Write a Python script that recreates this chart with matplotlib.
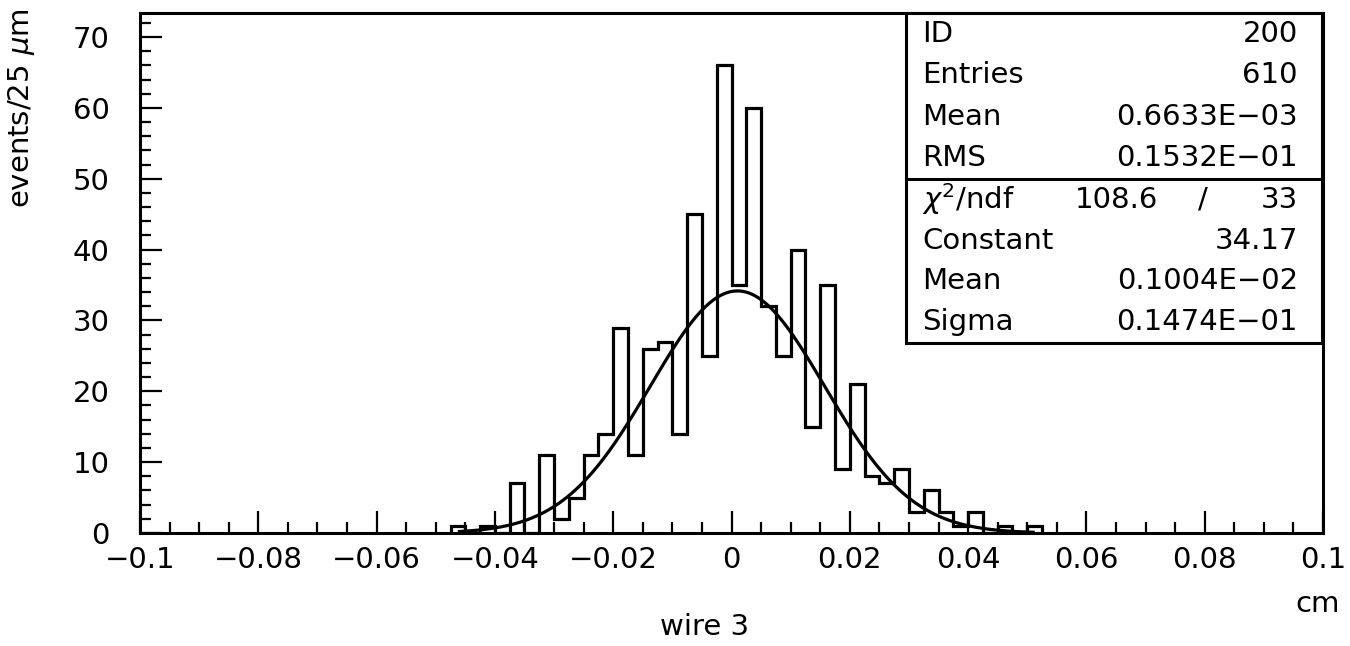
import numpy as np
import matplotlib
matplotlib.use("Agg")
import matplotlib.pyplot as plt
from matplotlib.ticker import FixedLocator, FixedFormatter, MultipleLocator
from matplotlib.patches import Rectangle
from matplotlib.lines import Line2D

plt.rcParams['font.family'] = ['DejaVu Sans']

# ---- data ----
bin_width = 0.0025           # 25 um bins (cm)
first_edge = -0.0475         # left edge of first non-empty region shown
counts = [1, 0, 1, 0, 7, 0, 11, 2, 5, 11,
          14, 29, 11, 26, 27, 14, 45, 25, 66, 35,
          60, 32, 25, 40, 15, 35, 9, 21, 8, 7,
          9, 3, 6, 3, 1, 3, 0, 1, 0, 1]

fit_constant = 34.17
fit_mean = 0.1004e-02
fit_sigma = 0.1474e-01
fit_range = (-0.046, 0.051)

x_ticks = [-0.1, -0.08, -0.06, -0.04, -0.02, 0.0, 0.02, 0.04, 0.06, 0.08, 0.1]
x_tick_labels = ['\u22120.1', '\u22120.08', '\u22120.06', '\u22120.04', '\u22120.02', '0',
                 '0.02', '0.04', '0.06', '0.08', '0.1']
y_ticks = [0, 10, 20, 30, 40, 50, 60, 70]

stat_names = ['ID', 'Entries', 'Mean', 'RMS']
stat_values = ['200', '610', '0.6633E\u221203', '0.1532E\u221201']
fit_names = ['Constant', 'Mean', 'Sigma']
fit_values = ['34.17', '0.1004E\u221202', '0.1474E\u221201']
chi2_value = '108.6'
ndf_value = '33'

# ---- figure ----
W, H = 1350, 646
fig = plt.figure(figsize=(W / 100, H / 100), dpi=100)

def fx(px):
    return px / W

def fy(py):
    return 1 - py / H

ax_left, ax_right, ax_top, ax_bottom = 140, 1323, 13, 533
ax = fig.add_axes([fx(ax_left), fy(ax_bottom), fx(ax_right - ax_left), (ax_bottom - ax_top) / H])

edges = first_edge + bin_width * np.arange(len(counts) + 1)
ax.stairs(counts, edges, baseline=0, fill=False, color='black', linewidth=2.3)

xf = np.linspace(fit_range[0], fit_range[1], 400)
yf = fit_constant * np.exp(-0.5 * ((xf - fit_mean) / fit_sigma) ** 2)
ax.plot(xf, yf, color='black', linewidth=2.3)

ax.set_xlim(-0.1, 0.1)
ax.set_ylim(0, 73.4)

ax.xaxis.set_major_locator(FixedLocator(x_ticks))
ax.xaxis.set_major_formatter(FixedFormatter(x_tick_labels))
ax.xaxis.set_minor_locator(MultipleLocator(0.005))
ax.yaxis.set_major_locator(FixedLocator(y_ticks))
ax.yaxis.set_minor_locator(MultipleLocator(2))

fs = 21
ax.tick_params(axis='both', which='both', direction='in', top=False, right=False,
               width=1.6, colors='black', labelsize=fs)
ax.tick_params(axis='both', which='major', length=16)
ax.tick_params(axis='both', which='minor', length=8)
ax.tick_params(axis='x', which='major', pad=9)
ax.tick_params(axis='y', which='major', pad=22)
for s in ax.spines.values():
    s.set_linewidth(2.2)

# axis titles
fig.text(fx(22), fy(108), 'events/25 $\\mu$m', rotation=90, ha='center', va='center', fontsize=fs)
fig.text(fx(1318), fy(604), 'cm', ha='center', va='center', fontsize=fs)
fig.text(fx(705), fy(627), 'wire 3', ha='center', va='center', fontsize=fs)

# stats box
bx0, bx1, by0, by1, bdiv = 906, 1322, 13, 343, 179
fig.patches.append(Rectangle((fx(bx0), fy(by1)), fx(bx1 - bx0), (by1 - by0) / H,
                             transform=fig.transFigure, facecolor='white',
                             edgecolor='black', linewidth=2.2, zorder=5))
fig.lines.append(Line2D([fx(bx0), fx(bx1)], [fy(bdiv), fy(bdiv)], transform=fig.transFigure,
                        color='black', linewidth=2.2, zorder=6))

tx_left, tx_right = 922, 1298
row_h1 = (bdiv - by0) / 4
for i, (n, v) in enumerate(zip(stat_names, stat_values)):
    yc = by0 + row_h1 * (i + 0.5)
    fig.text(fx(tx_left), fy(yc), n, ha='left', va='center', fontsize=fs, zorder=7)
    fig.text(fx(tx_right), fy(yc), v, ha='right', va='center', fontsize=fs, zorder=7)

row_h2 = (by1 - bdiv) / 4
yc = bdiv + row_h2 * 0.5
fig.text(fx(tx_left), fy(yc), '$\\chi^2$/ndf', ha='left', va='center', fontsize=fs, zorder=7)
fig.text(fx(1158), fy(yc), chi2_value, ha='right', va='center', fontsize=fs, zorder=7)
fig.text(fx(1203), fy(yc), '/', ha='center', va='center', fontsize=fs, zorder=7)
fig.text(fx(tx_right), fy(yc), ndf_value, ha='right', va='center', fontsize=fs, zorder=7)
for i, (n, v) in enumerate(zip(fit_names, fit_values)):
    yc = bdiv + row_h2 * (i + 1.5)
    fig.text(fx(tx_left), fy(yc), n, ha='left', va='center', fontsize=fs, zorder=7)
    fig.text(fx(tx_right), fy(yc), v, ha='right', va='center', fontsize=fs, zorder=7)

fig.savefig('out.png', dpi=100)
